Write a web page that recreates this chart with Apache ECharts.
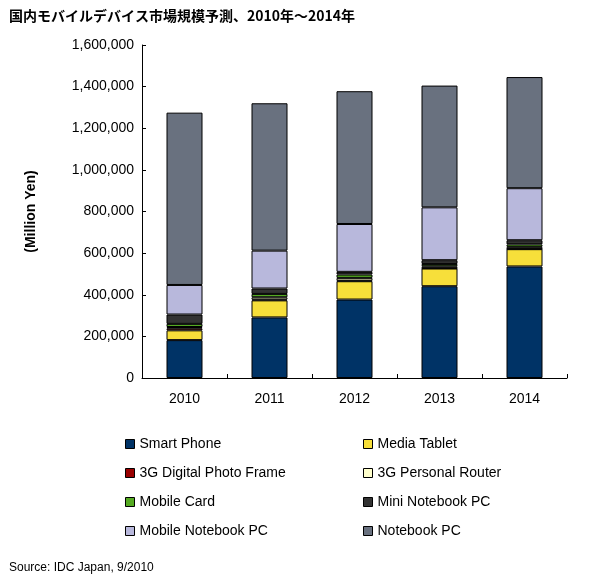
<!DOCTYPE html>
<html><head><meta charset="utf-8">
<script src="https://cdn.jsdelivr.net/npm/echarts@6/dist/echarts.min.js"></script>
</head>
<body style="margin:0;background:#fff">
<div id="c" style="width:594px;height:575px"></div>
<script>
const years = ['2010', '2011', '2012', '2013', '2014'];
const seriesNames = ['Smart Phone', 'Media Tablet', '3G Digital Photo Frame', '3G Personal Router',
  'Mobile Card', 'Mini Notebook PC', 'Mobile Notebook PC', 'Notebook PC'];
const colors = ['#003366', '#F7DF3A', '#990000', '#FFFFCC', '#55AA22', '#333333', '#B8B8DC', '#69717F'];
const smartPhone = [182000, 291000, 377000, 441000, 536000];
const mediaTablet = [47000, 82000, 88000, 85000, 83000];
const photoFrame = [10000, 4000, 3000, 2000, 1000];
const router = [6000, 11000, 13000, 9000, 10000];
const mobileCard = [15000, 16000, 16000, 11000, 12000];
const miniNotebook = [45000, 26000, 13000, 18000, 20000];
const mobileNotebook = [142000, 182000, 230000, 254000, 250000];
const notebook = [828000, 708000, 638000, 585000, 534000];
const values = [smartPhone, mediaTablet, photoFrame, router, mobileCard, miniNotebook, mobileNotebook, notebook];

const chart = echarts.init(document.getElementById('c'));
const font = 'Liberation Sans, Arial, sans-serif';
const legendPos = [[120, 432], [358, 432], [120, 461], [358, 461], [120, 490], [358, 490], [120, 519], [358, 519]];
chart.setOption({
  animation: false,
  title: [
    {text: '国内モバイルデバイス市場規模予測、2010年～2014年', left: 4, top: 4,
      textStyle: {fontSize: 14, fontWeight: 'bold', color: '#000', fontFamily: 'Noto Sans CJK JP'}},
    {text: 'Source: IDC Japan, 9/2010', left: 4, top: 557,
      textStyle: {fontSize: 12, fontWeight: 'normal', color: '#000', fontFamily: font}}
  ],
  legend: legendPos.map((p, i) => ({
    data: [seriesNames[i]], left: p[0], top: p[1], itemWidth: 9, itemHeight: 9, itemGap: 0,
    icon: 'rect', textStyle: {fontSize: 14, color: '#000', fontFamily: font},
    itemStyle: {borderColor: '#000', borderWidth: 1}
  })),
  grid: {left: 142, right: 27, top: 45, bottom: 197},
  xAxis: {
    type: 'category', data: years,
    axisLine: {lineStyle: {color: '#000'}},
    axisTick: {show: true, inside: true, length: 4, lineStyle: {color: '#000'}},
    axisLabel: {fontSize: 14, color: '#000', margin: 14, fontFamily: font}
  },
  yAxis: {
    type: 'value', min: 0, max: 1600000, interval: 200000,
    name: '(Million Yen)', nameLocation: 'middle', nameGap: 104, nameRotate: 90,
    nameTextStyle: {fontSize: 14, fontWeight: 'bold', color: '#000', fontFamily: font},
    axisLine: {show: true, lineStyle: {color: '#000'}},
    axisTick: {show: true, inside: true, length: 4, lineStyle: {color: '#000'}},
    splitLine: {show: false},
    axisLabel: {fontSize: 14, color: '#000', fontFamily: font,
      formatter: v => v.toLocaleString('en-US')}
  },
  series: seriesNames.map((n, i) => ({
    name: n, type: 'bar', stack: 'total', data: values[i], barWidth: 36,
    itemStyle: {color: colors[i], borderColor: '#000', borderWidth: 1}
  }))
});
</script>
</body></html>
